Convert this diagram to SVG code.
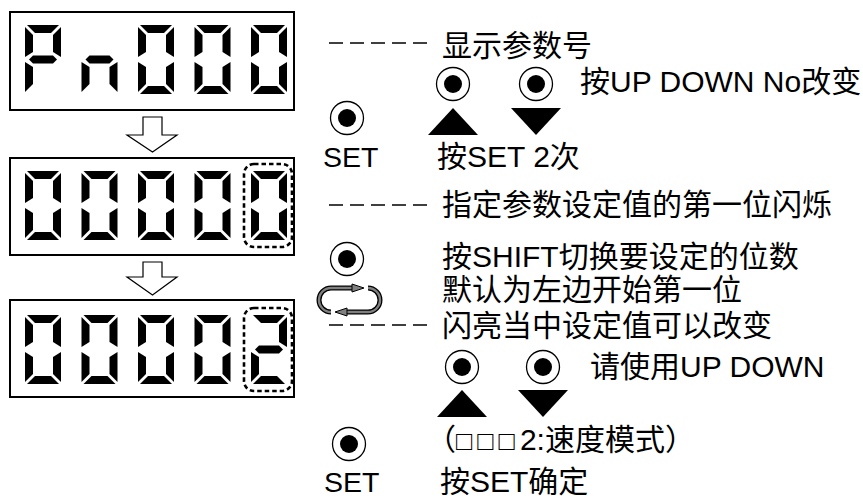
<svg xmlns="http://www.w3.org/2000/svg" xmlns:xlink="http://www.w3.org/1999/xlink" width="863" height="498" viewBox="0 0 863 498">
<style>
.box{fill:#fff;stroke:#000;stroke-width:2}
.seg{fill:#000}
.sel{fill:none;stroke:#000;stroke-width:2.6;stroke-dasharray:4.5,3}
.harrow{fill:#fff;stroke:#000;stroke-width:1.2}
.lead{stroke:#000;stroke-width:1.3;stroke-dasharray:14,7}
.t{font-family:"Liberation Sans","Noto Sans CJK SC",sans-serif;font-size:30px;fill:#000}
.s{font-family:"Liberation Sans",sans-serif;font-size:28.5px;fill:#000}
.sq{font-size:27px;letter-spacing:5px}
.tri{fill:#000}
.loopo{fill:none;stroke:#000;stroke-width:5}
.loopi{fill:none;stroke:#808080;stroke-width:2.4}
.ah{fill:#808080;stroke:#000;stroke-width:1}
</style>
<defs>
<polygon id="sa" points="2,0 34,0 26,8 10,8"/>
<polygon id="sd" points="2,69 34,69 26,61 10,61"/>
<polygon id="sf" points="0,2 8,10 8,27 0,32"/>
<polygon id="sb" points="36,2 28,10 28,27 36,32"/>
<polygon id="se" points="0,37 8,42 8,59 0,67"/>
<polygon id="sc" points="36,37 28,42 28,59 36,67"/>
<polygon id="sg" points="4,34.5 8,30.5 28,30.5 32,34.5 28,38.5 8,38.5"/>
<g id="d0" class="seg"><use href="#sa"/><use href="#sb"/><use href="#sc"/><use href="#sd"/><use href="#se"/><use href="#sf"/></g>
<g id="dP" class="seg"><use href="#sa"/><use href="#sb"/><use href="#se"/><use href="#sf"/><use href="#sg"/></g>
<g id="dn" class="seg"><use href="#sc"/><use href="#se"/><use href="#sg"/></g>
<g id="d2" class="seg"><use href="#sa"/><use href="#sb"/><use href="#sg"/><use href="#se"/><use href="#sd"/></g>
<g id="btn"><circle r="16.5" fill="#fff" stroke="#000" stroke-width="1.3"/><circle r="9" fill="#000"/></g>
</defs>

<g id="display1">
<rect class="box" x="10" y="12" width="284" height="98"/>
<use href="#dP" x="25" y="25"/>
<use href="#dn" x="81.5" y="25"/>
<use href="#d0" x="138" y="25"/>
<use href="#d0" x="194.5" y="25"/>
<use href="#d0" x="251" y="25"/>
</g>

<g id="display2">
<rect class="box" x="10" y="158" width="284" height="97"/>
<use href="#d0" x="25" y="171"/>
<use href="#d0" x="81.5" y="171"/>
<use href="#d0" x="138" y="171"/>
<use href="#d0" x="194.5" y="171"/>
<use href="#d0" x="251" y="171"/>
<rect class="sel" x="244" y="164" width="48" height="83" rx="10"/>
</g>

<g id="display3">
<rect class="box" x="10" y="300" width="284" height="97"/>
<use href="#d0" x="25" y="315"/>
<use href="#d0" x="81.5" y="315"/>
<use href="#d0" x="138" y="315"/>
<use href="#d0" x="194.5" y="315"/>
<use href="#d2" x="251" y="315"/>
<rect class="sel" x="244" y="308" width="48" height="83" rx="10"/>
</g>

<g id="connectors">
<polygon class="harrow" points="143,117 162,117 162,135 177,135 152.5,152 127,135 143,135"/>
<polygon class="harrow" points="143,262 162,262 162,277 177,277 152.5,295 127,277 143,277"/>
</g>

<g id="step1">
<line class="lead" x1="329" y1="43" x2="428" y2="43"/>
<text class="t" x="442" y="56">显示参数号</text>
<use href="#btn" x="453" y="84"/>
<use href="#btn" x="536" y="84"/>
<text class="t" x="580" y="92">按UP DOWN No改变</text>
<polygon class="tri" points="428,135 478,135 453,108"/>
<polygon class="tri" points="511,108 561,108 536,135"/>
<use href="#btn" x="347" y="118"/>
<text class="s" x="323" y="167">SET</text>
<text class="t" x="437" y="167">按SET 2次</text>
</g>

<g id="step2">
<line class="lead" x1="329" y1="205" x2="428" y2="205"/>
<text class="t" x="442" y="215">指定参数设定值的第一位闪烁</text>
<use href="#btn" x="347" y="259"/>
<text class="t" x="442" y="267">按SHIFT切换要设定的位数</text>
<text class="t" x="442" y="300">默认为左边开始第一位</text>
<g id="shift-icon">
<path class="loopo" d="M331,312 A12,12 0 0 1 331,288 L356,288"/>
<path class="loopi" d="M331,312 A12,12 0 0 1 331,288 L356,288"/>
<polygon class="ah" points="352,284 364,288 352,292"/>
<path class="loopo" d="M368,288 A12,12 0 0 1 368,312 L343,312"/>
<path class="loopi" d="M368,288 A12,12 0 0 1 368,312 L343,312"/>
<polygon class="ah" points="347,308 335,312 347,316"/>
</g>
</g>

<g id="step3">
<line class="lead" x1="329" y1="325" x2="428" y2="325"/>
<text class="t" x="442" y="336">闪亮当中设定值可以改变</text>
<use href="#btn" x="462" y="367"/>
<use href="#btn" x="543" y="367"/>
<text class="t" x="590" y="377">请使用UP DOWN</text>
<polygon class="tri" points="437,417 487,417 462,390"/>
<polygon class="tri" points="518,390 568,390 543,417"/>
<use href="#btn" x="349" y="444"/>
<text class="t" x="426" y="450">（<tspan class="sq">□□□</tspan>2:速度模式）</text>
<text class="s" x="324" y="492">SET</text>
<text class="t" x="440" y="492">按SET确定</text>
</g>
</svg>
